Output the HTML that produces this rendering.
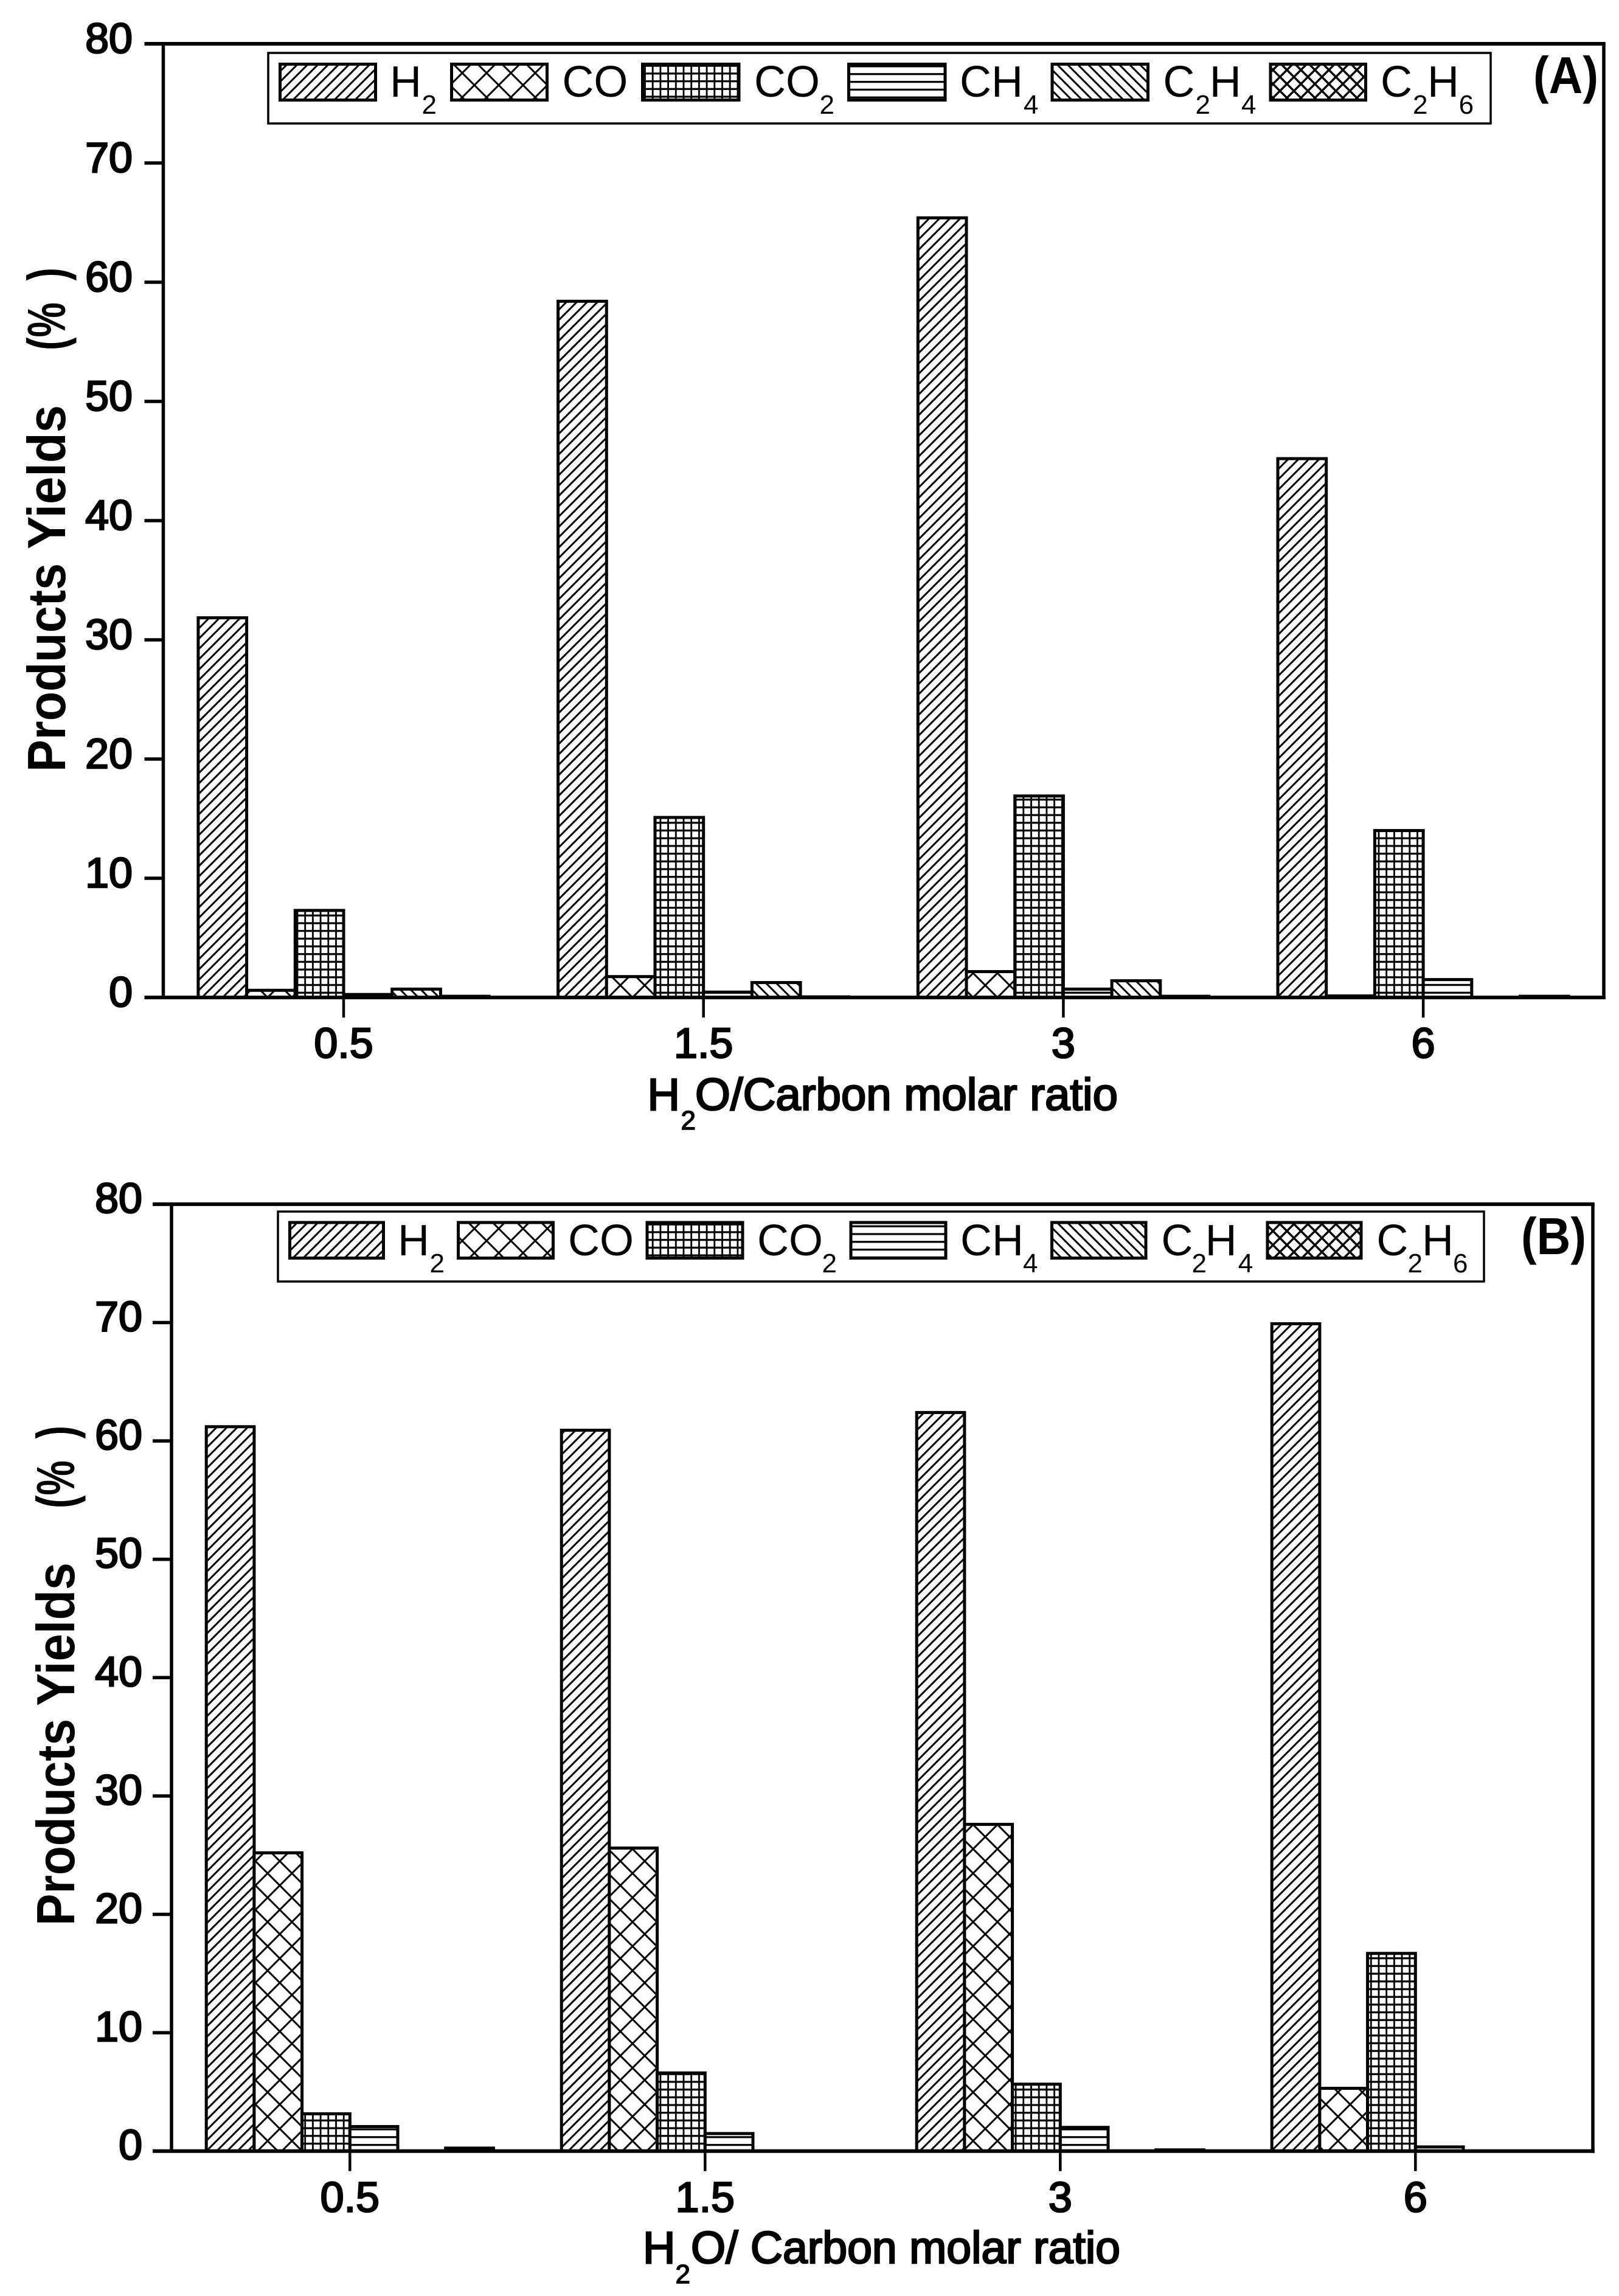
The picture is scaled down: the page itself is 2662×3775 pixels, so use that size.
<!DOCTYPE html>
<html lang="en">
<head>
<meta charset="utf-8">
<title>Products yields vs H2O/Carbon molar ratio</title>
<style>
html,body{margin:0;padding:0;background:#fff}
svg{display:block}
text{font-family:"Liberation Sans",sans-serif;fill:#000}
.tick{font-size:70px;stroke:#000;stroke-width:2.6px}
.leg{font-size:72px}
.sub{font-size:44px}
.xt{font-size:74px;stroke:#000;stroke-width:2.6px}
.xs{font-size:44px;stroke:#000;stroke-width:1.5px}
.yt{font-size:88px;font-weight:bold}
.pl{font-size:85px;font-weight:bold}
.sw{stroke:#000;stroke-width:5}
.box{fill:#fff;stroke:#000;stroke-width:3.5}
</style>
</head>
<body>
<svg id="figure" xmlns="http://www.w3.org/2000/svg" width="2662" height="3775" viewBox="0 0 2662 3775">
  <defs>
    <pattern id="p-h2" patternUnits="userSpaceOnUse" width="17" height="17">
      <rect width="17" height="17" fill="#fff"/>
      <path d="M0,17 L17,0 M-4,4 L4,-4 M13,21 L21,13" stroke="#000" stroke-width="3" fill="none"/>
    </pattern>
    <pattern id="p-co" patternUnits="userSpaceOnUse" width="40" height="40">
      <rect width="40" height="40" fill="#fff"/>
      <path d="M-2,-2 L42,42 M-2,42 L42,-2" stroke="#000" stroke-width="3" fill="none"/>
    </pattern>
    <pattern id="p-co2" patternUnits="userSpaceOnUse" width="12.7" height="12.7">
      <rect width="12.7" height="12.7" fill="#fff"/>
      <rect x="5" y="0" width="2.8" height="12.7" fill="#000"/>
      <rect x="0" y="5" width="12.7" height="3.2" fill="#000"/>
    </pattern>
    <pattern id="p-ch4" patternUnits="userSpaceOnUse" width="12.8" height="12.8">
      <rect width="12.8" height="12.8" fill="#fff"/>
      <rect x="0" y="5" width="12.8" height="3.2" fill="#000"/>
    </pattern>
    <pattern id="p-c2h4" patternUnits="userSpaceOnUse" width="17" height="17">
      <rect width="17" height="17" fill="#fff"/>
      <path d="M0,0 L17,17 M-4,13 L4,21 M13,-4 L21,4" stroke="#000" stroke-width="3" fill="none"/>
    </pattern>
    <pattern id="p-c2h6" patternUnits="userSpaceOnUse" width="23" height="23">
      <rect width="23" height="23" fill="#fff"/>
      <path d="M-2,-2 L25,25 M-2,25 L25,-2" stroke="#000" stroke-width="3.5" fill="none"/>
    </pattern>
  </defs>

  <rect x="0" y="0" width="2662" height="3775" fill="#fff"/>

  <g id="panel-a"></g>
  <g id="panel-b"></g>

  <!-- Panel A static labels -->
  <g>
    <rect class="box" x="441" y="87" width="2010" height="116"/>
    <g>
      <rect class="sw" x="460.5" y="105.5" width="157" height="59" fill="url(#p-h2)"/>
      <text class="leg" x="641" y="159">H<tspan class="sub" x="693.5" y="187">2</tspan></text>
    </g>
    <g>
      <rect class="sw" x="742.5" y="105.5" width="157" height="59" fill="url(#p-co)"/>
      <text class="leg" x="924.4" y="159">CO</text>
    </g>
    <g>
      <rect class="sw" x="1056.5" y="105.5" width="158.5" height="59" fill="url(#p-co2)"/>
      <text class="leg" x="1240" y="159">CO<tspan class="sub" x="1347.5" y="187">2</tspan></text>
    </g>
    <g>
      <rect class="sw" x="1395.5" y="105.5" width="158.5" height="59" fill="url(#p-ch4)"/>
      <text class="leg" x="1578" y="159">CH<tspan class="sub" x="1683" y="187">4</tspan></text>
    </g>
    <g>
      <rect class="sw" x="1730" y="105.5" width="157.5" height="59" fill="url(#p-c2h4)"/>
      <text class="leg" x="1912.4" y="159">C<tspan class="sub" x="1965.5" y="187">2</tspan><tspan x="1988.7" y="159">H</tspan><tspan class="sub" x="2041" y="187">4</tspan></text>
    </g>
    <g>
      <rect class="sw" x="2089" y="105.5" width="156.5" height="59" fill="url(#p-c2h6)"/>
      <text class="leg" x="2270" y="159">C<tspan class="sub" x="2323" y="187">2</tspan><tspan x="2347" y="159">H</tspan><tspan class="sub" x="2398.6" y="187">6</tspan></text>
    </g>
  </g>
  <text class="pl" x="2521" y="153" textLength="107" lengthAdjust="spacingAndGlyphs">(A)</text>
  <text class="yt" transform="translate(107,1269) rotate(-90)" textLength="343" lengthAdjust="spacingAndGlyphs">Products</text>
  <text class="yt" transform="translate(107,903) rotate(-90)" textLength="237" lengthAdjust="spacingAndGlyphs">Yields</text>
  <text class="yt" transform="translate(107,576) rotate(-90)" textLength="136" lengthAdjust="spacingAndGlyphs">(%&#160;&#160;)</text>
  <text class="xt" x="1064.5" y="1825">H<tspan class="xs" x="1119.5" y="1857">2</tspan><tspan x="1143" y="1825" textLength="695" lengthAdjust="spacingAndGlyphs">O/Carbon molar ratio</tspan></text>

  <!-- Panel B static labels -->
  <g>
    <rect class="box" x="457" y="1992" width="1983" height="115"/>
    <g>
      <rect class="sw" x="476.5" y="2010" width="154" height="58.5" fill="url(#p-h2)"/>
      <text class="leg" x="654" y="2064">H<tspan class="sub" x="706.5" y="2092">2</tspan></text>
    </g>
    <g>
      <rect class="sw" x="753.5" y="2010" width="156" height="58.5" fill="url(#p-co)"/>
      <text class="leg" x="934" y="2064">CO</text>
    </g>
    <g>
      <rect class="sw" x="1064" y="2010" width="157" height="58.5" fill="url(#p-co2)"/>
      <text class="leg" x="1245" y="2064">CO<tspan class="sub" x="1351.5" y="2092">2</tspan></text>
    </g>
    <g>
      <rect class="sw" x="1399" y="2010" width="156" height="58.5" fill="url(#p-ch4)"/>
      <text class="leg" x="1579" y="2064">CH<tspan class="sub" x="1682" y="2092">4</tspan></text>
    </g>
    <g>
      <rect class="sw" x="1729.5" y="2010" width="154.5" height="58.5" fill="url(#p-c2h4)"/>
      <text class="leg" x="1909.4" y="2064">C<tspan class="sub" x="1959.5" y="2092">2</tspan><tspan x="1981.6" y="2064">H</tspan><tspan class="sub" x="2035.8" y="2092">4</tspan></text>
    </g>
    <g>
      <rect class="sw" x="2084" y="2010" width="154" height="58.5" fill="url(#p-c2h6)"/>
      <text class="leg" x="2263.4" y="2064">C<tspan class="sub" x="2314.5" y="2092">2</tspan><tspan x="2338" y="2064">H</tspan><tspan class="sub" x="2389" y="2092">6</tspan></text>
    </g>
  </g>
  <text class="pl" x="2501" y="2062" textLength="107" lengthAdjust="spacingAndGlyphs">(B)</text>
  <text class="yt" transform="translate(122,3166) rotate(-90)" textLength="340" lengthAdjust="spacingAndGlyphs">Products</text>
  <text class="yt" transform="translate(122,2805) rotate(-90)" textLength="236" lengthAdjust="spacingAndGlyphs">Yields</text>
  <text class="yt" transform="translate(122,2480) rotate(-90)" textLength="136" lengthAdjust="spacingAndGlyphs">(%&#160;&#160;)</text>
  <text class="xt" x="1057" y="3721">H<tspan class="xs" x="1110.5" y="3754">2</tspan><tspan x="1136" y="3721" textLength="706" lengthAdjust="spacingAndGlyphs">O/ Carbon molar ratio</tspan></text>
</svg>

<script>
const categories = ["0.5", "1.5", "3", "6"];
const yTickLabels = [0, 10, 20, 30, 40, 50, 60, 70, 80];
const seriesNames = ["h2", "co", "co2", "ch4", "c2h4", "c2h6"];

const a_h2 = [31.85, 58.4, 65.4, 45.2];
const a_co = [0.6, 1.75, 2.17, 0.13];
const a_co2 = [7.3, 15.1, 16.9, 14.0];
const a_ch4 = [0.25, 0.45, 0.7, 1.5];
const a_c2h4 = [0.7, 1.25, 1.4, 0];
const a_c2h6 = [0.1, 0.05, 0.1, 0.1];

const b_h2 = [61.2, 60.9, 62.4, 69.9];
const b_co = [25.2, 25.6, 27.6, 5.3];
const b_co2 = [3.15, 6.6, 5.65, 16.7];
const b_ch4 = [2.07, 1.48, 2.0, 0.35];
const b_c2h4 = [0, 0, 0, 0];
const b_c2h6 = [0.25, 0, 0.1, 0];

const SVG_NS = "http://www.w3.org/2000/svg";

function mk(tag, attrs, parent) {
  const el = document.createElementNS(SVG_NS, tag);
  for (const k in attrs) el.setAttribute(k, attrs[k]);
  parent.appendChild(el);
  return el;
}

function drawPanel(cfg) {
  const root = document.getElementById(cfg.id);
  const y = function (v) { return cfg.y0 - v * cfg.yUnit; };
  const xTick = function (g) { return cfg.xStart + g * cfg.xStep; };
  const xBar = function (g, s) { return xTick(g) + (s - 3) * cfg.barW; };

  // bars
  cfg.series.forEach(function (vals, s) {
    vals.forEach(function (v, g) {
      if (v <= 0) return;
      const bar = mk("rect", {
        x: xBar(g, s), y: y(v), width: cfg.barW, height: cfg.y0 - y(v),
        fill: "url(#p-" + seriesNames[s] + ")", stroke: "#000", "stroke-width": 5
      }, root);
      
      
    });
  });

  // frame
  const frame = mk("path", {
    d: "M" + cfg.xLeft + "," + y(80) + " V" + cfg.y0 + " M" + cfg.xRight + "," + y(80) + " V" + (cfg.y0 + 3),
    stroke: "#000", "stroke-width": 5.5, fill: "none"
  }, root);
  
  

  const top = mk("line", {
    x1: cfg.xLeft - 31, x2: cfg.xRight + 2.75, y1: y(80), y2: y(80), stroke: "#000", "stroke-width": 6
  }, root);
  
  

  const bottom = mk("line", {
    x1: cfg.xLeft - 31, x2: cfg.xRight + 2.75, y1: cfg.y0, y2: cfg.y0, stroke: "#000", "stroke-width": 6
  }, root);
  
  

  // y ticks
  yTickLabels.forEach(function (v) {
    const t = mk("line", {
      x1: cfg.xLeft - 31, x2: cfg.xLeft, y1: y(v), y2: y(v), stroke: "#000", "stroke-width": 5.5
    }, root);
    
    
    const l = mk("text", {
      class: "tick", x: cfg.yLabelX, y: y(v) + cfg.yLabelDy, "text-anchor": "end"
    }, root);
    l.textContent = String(v);
    
    
  });

  // x ticks
  categories.forEach(function (c, g) {
    const t = mk("line", {
      x1: xTick(g), x2: xTick(g), y1: cfg.y0, y2: cfg.y0 + 33, stroke: "#000", "stroke-width": 4.5
    }, root);
    
    
    const l = mk("text", {
      class: "tick", x: xTick(g), y: cfg.xLabelY, "text-anchor": "middle"
    }, root);
    l.textContent = c;
    
    
  });
}

drawPanel({
  id: "panel-a", key: "a",
  series: [a_h2, a_co, a_co2, a_ch4, a_c2h4, a_c2h6],
  y0: 1640, yUnit: 19.6, xLeft: 268.5, xRight: 2637,
  xStart: 565, xStep: 591.7, barW: 79.7,
  yLabelX: 218, yLabelDy: 15, xLabelY: 1739
});

drawPanel({
  id: "panel-b", key: "b",
  series: [b_h2, b_co, b_co2, b_ch4, b_c2h4, b_c2h6],
  y0: 3536.7, yUnit: 19.46, xLeft: 282, xRight: 2619,
  xStart: 575.3, xStep: 584, barW: 78.7,
  yLabelX: 234, yLabelDy: 14, xLabelY: 3636.7
});
</script>
</body>
</html>
